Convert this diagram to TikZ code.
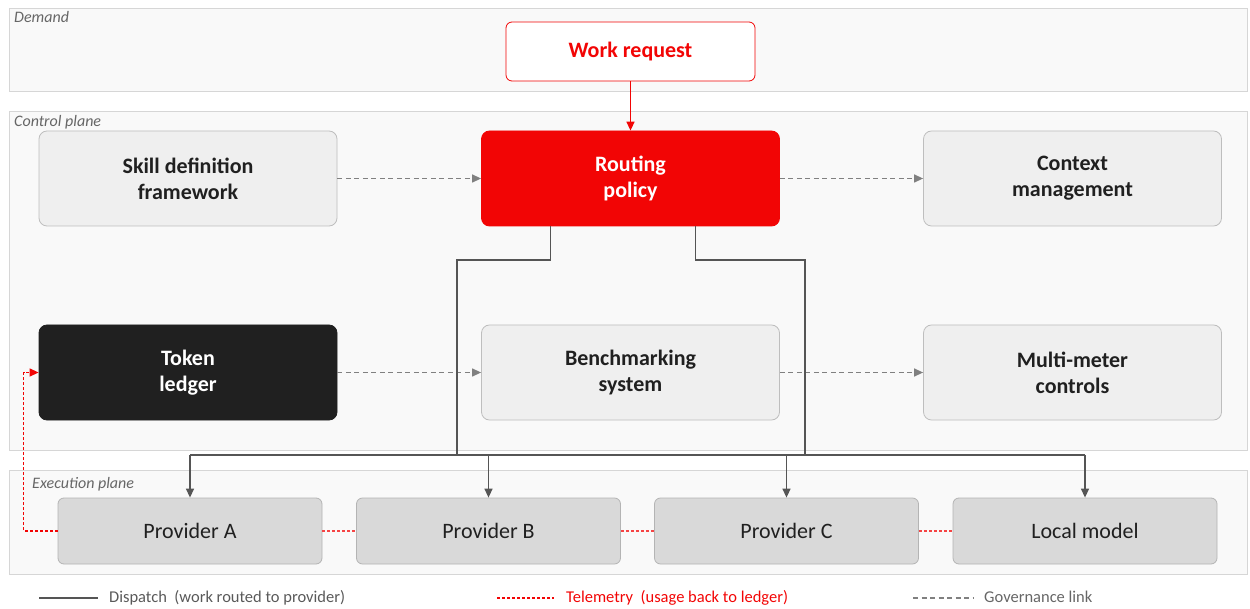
\documentclass[tikz,border=0pt]{standalone}
\usepackage{fontspec}
\setmainfont{Carlito}
\usetikzlibrary{calc,shapes,arrows,arrows.meta}

\definecolor{ctred}{RGB}{242,5,5}
\definecolor{bandfill}{RGB}{249,249,249}
\definecolor{bandline}{RGB}{214,214,214}
\definecolor{boxfill}{RGB}{239,239,239}
\definecolor{boxline}{RGB}{190,190,190}
\definecolor{provfill}{RGB}{217,217,217}
\definecolor{provline}{RGB}{180,180,180}
\definecolor{wirecol}{RGB}{85,85,85}
\definecolor{govcol}{RGB}{128,128,128}
\definecolor{inkdark}{RGB}{32,32,32}

\tikzset{
    band/.style={draw=bandline,fill=bandfill,line width=0.8pt},
    bandlabel/.style={anchor=base west,inner sep=0pt,text=black!60,font=\itshape\fontsize{16}{18}\selectfont},
    ctlbox/.style={draw=boxline,fill=boxfill,rounded corners=8pt,line width=0.8pt,
        minimum width=298pt,minimum height=95pt,align=center,text=inkdark,
        font=\bfseries\fontsize{22}{26}\selectfont},
    provbox/.style={draw=provline,fill=provfill,rounded corners=6pt,line width=0.8pt,
        minimum width=264pt,minimum height=66pt,text=inkdark,
        font=\fontsize{22}{24}\selectfont},
    tip/.style={-{Triangle[length=9pt,width=8pt]}},
    wire/.style={draw=wirecol,line width=1.4pt},
    gov/.style={draw=govcol,line width=1.3pt,dash pattern=on 5pt off 3.5pt},
    telem/.style={draw=ctred!75,line width=1.2pt,dash pattern=on 3pt off 2pt},
    legtext/.style={anchor=base west,inner sep=0pt,font=\fontsize{16.5}{18}\selectfont}
}

\begin{document}
\begin{tikzpicture}[x=1pt,y=-1pt]
    \useasboundingbox (0,0) rectangle (1250,609);
    % bands
    \draw[band] (9,8) rectangle (1247,91);
    \draw[band] (9,111) rectangle (1247,450);
    \draw[band] (9,470) rectangle (1247,574);
    \node[bandlabel] (lbldemand) at (14,23) {Demand};
    \node[bandlabel] (lblcontrol) at (14,127) {Control plane};
    \node[bandlabel] (lblexec) at (32,488) {Execution plane};

    % demand + control plane
    \node[ctlbox,draw=ctred,fill=white,text=ctred,minimum width=249pt,minimum height=59pt,
        rounded corners=6pt] (request) at (630.5,51.5) {Work request};
    \node[ctlbox] (skill) at (188,178.5) {Skill definition\\framework};
    \node[ctlbox,draw=ctred,fill=ctred,text=white] (routing) at (630.5,178.5) {Routing\\policy};
    \node[ctlbox] (context) at (1072.5,178.5) {Context\\management};
    \node[ctlbox,draw=inkdark,fill=inkdark,text=white] (ledger) at (188,372.5) {Token\\ledger};
    \node[ctlbox] (bench) at (630.5,372.5) {Benchmarking\\system};
    \node[ctlbox] (meter) at (1072.5,372.5) {Multi-meter\\controls};

    % execution plane
    \node[provbox] (provA) at (190,531) {Provider A};
    \node[provbox] (provB) at (488.5,531) {Provider B};
    \node[provbox] (provC) at (786.5,531) {Provider C};
    \node[provbox] (local) at (1085,531) {Local model};

    \draw[draw=ctred,line width=1.5pt,tip] (request) -- (routing);

    % governance links
    \draw[gov,tip] (skill) -- (routing);
    \draw[gov,tip] (routing) -- (context);
    \draw[gov,tip] (ledger) -- (bench);
    \draw[gov,tip] (bench) -- (meter);

    % dispatch tree
    \coordinate (turnL) at (457,260);
    \coordinate (turnR) at (805,260);
    \coordinate (busL) at (457,455);
    \coordinate (busR) at (805,455);
    \draw[wire] ([xshift=-80pt]routing.south) |- (turnL) -- (busL);
    \draw[wire] ([xshift=65pt]routing.south) |- (turnR) -- (busR);
    \draw[wire] (provA.north |- busL) -- (local.north |- busL);
    \foreach \p in {provA,provB,provC,local}
        \draw[wire,tip] (\p.north |- busL) -- (\p.north);

    % telemetry
    \draw[telem] (provA) -- (provB);
    \draw[telem] (provB) -- (provC);
    \draw[telem] (provC) -- (local);
    \draw[telem,draw=ctred,line width=1.3pt,tip] (provA.west) -- ++(-34,0) |- (ledger.west);

    % legend
    \coordinate (legA1) at (39,598);
    \coordinate (legA2) at (98,598);
    \coordinate (legB1) at (497,598);
    \coordinate (legB2) at (554,598);
    \coordinate (legC1) at (913,598);
    \coordinate (legC2) at (974,598);
    \draw[wire] (legA1) -- (legA2);
    \draw[telem,draw=ctred] (legB1) -- (legB2);
    \draw[gov] (legC1) -- (legC2);
    \node[legtext,text=black!65] (legdispatch) at (109,602) {Dispatch\ \ (work routed to provider)};
    \node[legtext,text=ctred] (legtelem) at (566,602) {Telemetry\ \ (usage back to ledger)};
    \node[legtext,text=black!60] (leggov) at (984,602) {Governance link};
\end{tikzpicture}
\end{document}
